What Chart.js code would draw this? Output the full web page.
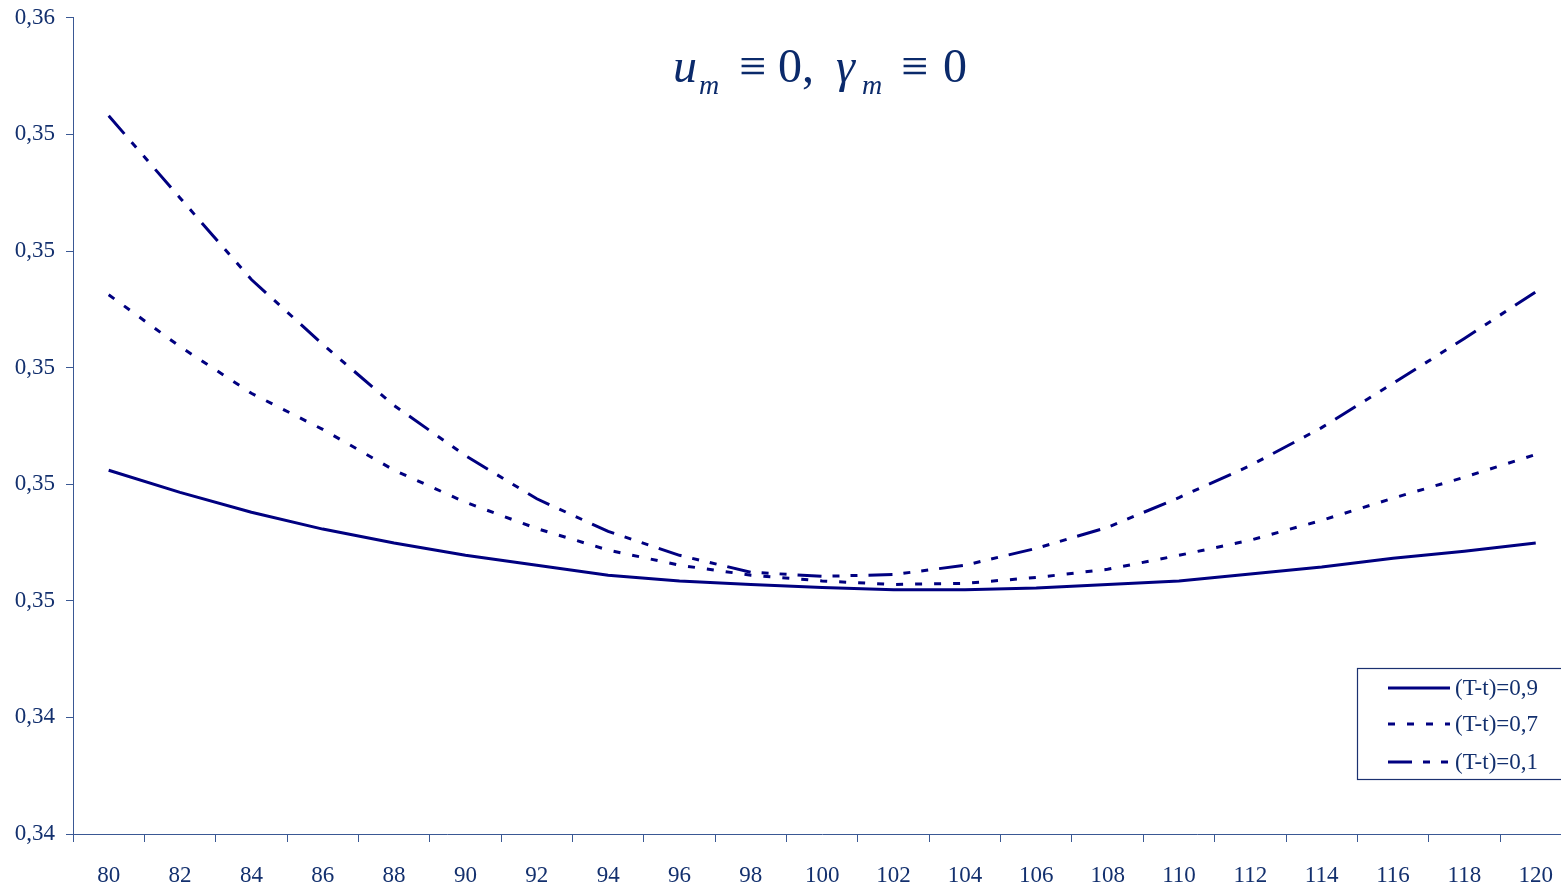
<!DOCTYPE html>
<html>
<head>
<meta charset="utf-8">
<script src="https://cdn.jsdelivr.net/npm/chart.js@4/dist/chart.umd.min.js"></script>
<style>
  html, body { margin: 0; padding: 0; background: #ffffff; overflow: hidden; width: 1561px; height: 886px; }
  #wrap { position: absolute; left: 0; top: -7px; width: 1573px; height: 893px; }
  .t { position: absolute; font-family: 'Liberation Serif', 'Times New Roman', serif; color: #0b2a6b; white-space: pre; }
  .big { font-size: 48px; line-height: 48px; }
  .sm { font-size: 28px; line-height: 28px; }
</style>
</head>
<body>
<div id="wrap"><canvas id="c"></canvas></div>
<div class="t big" style="left:673px; top:42px;"><i>u</i></div>
<div class="t sm" style="left:699px; top:71px;"><i>m</i></div>
<div class="t big" style="left:739px; top:42px;">≡</div>
<div class="t big" style="left:778px; top:42px;">0,</div>
<div class="t big" style="left:836px; top:42px;"><i>γ</i></div>
<div class="t sm" style="left:862px; top:71px;"><i>m</i></div>
<div class="t big" style="left:901px; top:42px;">≡</div>
<div class="t big" style="left:943px; top:42px;">0</div>
<script>
const categories = [80, 82, 84, 86, 88, 90, 92, 94, 96, 98, 100, 102, 104, 106, 108, 110, 112, 114, 116, 118, 120];
const seriesLabels = ['(T-t)=0,9', '(T-t)=0,7', '(T-t)=0,1'];
const series09 = [0.34824, 0.34786, 0.34752, 0.34723, 0.34699, 0.34678, 0.34661, 0.34644, 0.34634, 0.34628, 0.34623, 0.34619, 0.34619, 0.34622, 0.34628, 0.34634, 0.34646, 0.34658, 0.34673, 0.34685, 0.34699];
const series07 = [0.35125, 0.35036, 0.34956, 0.34894, 0.34824, 0.34769, 0.34724, 0.34687, 0.34661, 0.34644, 0.34634, 0.34628, 0.34630, 0.34640, 0.34654, 0.34678, 0.34704, 0.34738, 0.34776, 0.34812, 0.34851];
const series01 = [0.35432, 0.35291, 0.35151, 0.35040, 0.34935, 0.34849, 0.34775, 0.34719, 0.34678, 0.34649, 0.34642, 0.34645, 0.34661, 0.34690, 0.34726, 0.34777, 0.34832, 0.34897, 0.34973, 0.35050, 0.35130];
const yMin = 0.342, yMax = 0.356, yStep = 0.002;

const lineColor = '#000080';
const axisColor = '#3a5894';
const textColor = '#13306e';
const font = { family: "'Liberation Serif', 'Times New Roman', serif", size: 23 };

const legendBox = {
  id: 'legendBox',
  afterDraw(chart) {
    const ctx = chart.ctx;
    const dy = 7; // canvas is shifted up by 7px
    ctx.save();
    ctx.strokeStyle = '#1b3170';
    ctx.lineWidth = 1.2;
    ctx.strokeRect(1357.5, 668.5 + dy, 260, 111);
    const rows = [688, 724, 762];
    chart.data.datasets.forEach((ds, i) => {
      ctx.beginPath();
      ctx.strokeStyle = ds.borderColor;
      ctx.lineWidth = ds.borderWidth;
      ctx.setLineDash(ds.borderDash || []);
      ctx.moveTo(1388, rows[i] + dy);
      ctx.lineTo(1450, rows[i] + dy);
      ctx.stroke();
      ctx.setLineDash([]);
      ctx.fillStyle = textColor;
      ctx.font = "23px 'Liberation Serif', 'Times New Roman', serif";
      ctx.textBaseline = 'middle';
      ctx.textAlign = 'left';
      ctx.fillText(ds.label, 1455, rows[i] + dy + 1);
    });
    ctx.restore();
  }
};

new Chart(document.getElementById('c'), {
  type: 'line',
  data: {
    labels: categories,
    datasets: [
      { label: seriesLabels[0], data: series09, borderColor: lineColor, borderWidth: 3, borderDash: [], pointRadius: 0, tension: 0, fill: false },
      { label: seriesLabels[1], data: series07, borderColor: lineColor, borderWidth: 3, borderDash: [7, 12], pointRadius: 0, tension: 0, fill: false },
      { label: seriesLabels[2], data: series01, borderColor: lineColor, borderWidth: 3, borderDash: [24, 11, 7, 11, 7, 11], pointRadius: 0, tension: 0, fill: false }
    ]
  },
  options: {
    responsive: true,
    maintainAspectRatio: false,
    animation: false,
    layout: { padding: { top: 10, right: 0, bottom: 0, left: 0 } },
    plugins: { legend: { display: false }, tooltip: { enabled: false }, title: { display: false } },
    scales: {
      x: {
        type: 'category',
        offset: true,
        grid: { offset: true, drawOnChartArea: false, drawTicks: true, tickLength: 8, color: axisColor, lineWidth: 1 },
        border: { display: true, color: axisColor, width: 1 },
        ticks: { color: textColor, font: font, padding: 20, maxRotation: 0, autoSkip: false },
        afterFit(scale) { scale.height = 52; }
      },
      y: {
        type: 'linear',
        min: yMin,
        max: yMax,
        grid: { drawOnChartArea: false, drawTicks: true, tickLength: 7, color: axisColor, lineWidth: 1 },
        border: { display: true, color: axisColor, width: 1 },
        ticks: {
          stepSize: yStep,
          color: textColor,
          font: font,
          padding: 11,
          callback: (v) => Number(v).toFixed(2).replace('.', ',')
        },
        afterFit(scale) { scale.width = 73; }
      }
    }
  },
  plugins: [legendBox]
});
</script>
</body>
</html>
